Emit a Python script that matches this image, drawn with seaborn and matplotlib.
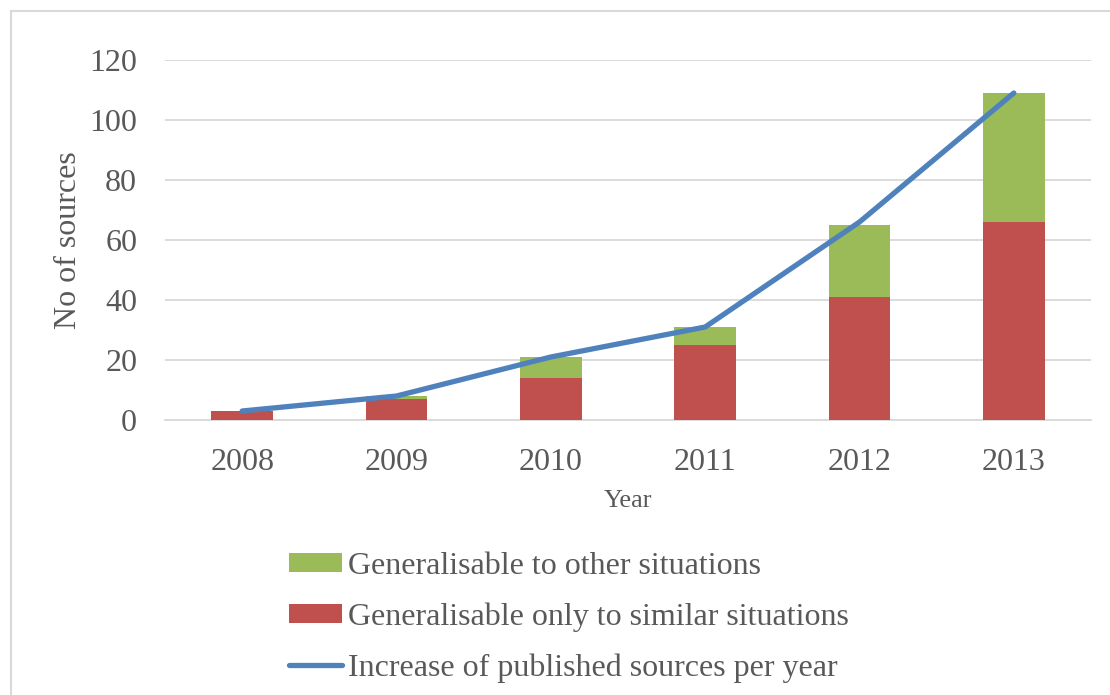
import matplotlib
matplotlib.use("Agg")
import matplotlib.pyplot as plt
import seaborn as sns
import pandas as pd
from matplotlib.patches import Patch
from matplotlib.lines import Line2D

years = ["2008", "2009", "2010", "2011", "2012", "2013"]
only_similar = [3, 7, 14, 25, 41, 66]
other_situations = [0, 1, 7, 6, 24, 43]
published_per_year = [3, 8, 21, 31, 66, 109]
y_ticks = [0, 20, 40, 60, 80, 100, 120]

totals = [a + b for a, b in zip(only_similar, other_situations)]
df = pd.DataFrame({"Year": years, "similar": only_similar, "total": totals,
                   "line": published_per_year})

RED = "#C0504D"
GREEN = "#9BBB59"
BLUE = "#4F81BD"
TXT = "#595959"
GRID = "#D9D9D9"

plt.rcParams["font.family"] = ["Liberation Serif", "DejaVu Serif"]

fig = plt.figure(figsize=(11.1, 6.95), dpi=100)
ax = fig.add_axes([165 / 1110, 1 - 420 / 695, 926 / 1110, 360 / 695])

sns.barplot(data=df, x="Year", y="total", color=GREEN, width=0.4,
            saturation=1, linewidth=0, ax=ax, zorder=2)
sns.barplot(data=df, x="Year", y="similar", color=RED, width=0.4,
            saturation=1, linewidth=0, ax=ax, zorder=3)
sns.lineplot(data=df, x="Year", y="line", color=BLUE, linewidth=3.8,
             ax=ax, zorder=4, solid_capstyle="round", sort=False)

ax.set_ylim(0, 120)
ax.set_xlim(-0.5, 5.5)
ax.set_yticks(y_ticks)
ax.yaxis.grid(True, color=GRID, linewidth=1.3, zorder=0)
ax.set_axisbelow(True)
for s in ["top", "right", "left"]:
    ax.spines[s].set_visible(False)
ax.spines["bottom"].set_color(GRID)
ax.spines["bottom"].set_linewidth(1.3)
ax.tick_params(axis="both", length=0, labelsize=23, labelcolor=TXT)
ax.tick_params(axis="y", pad=20)
ax.tick_params(axis="x", pad=20)

ax.set_xlabel("Year", fontsize=19, color=TXT, va="center")
ax.xaxis.set_label_coords(0.5, -0.225)
ax.set_ylabel("No of sources", fontsize=23, color=TXT, va="center")
ax.yaxis.set_label_coords(-0.104, 0.5)

handles = [Patch(facecolor=GREEN, edgecolor="none"),
           Patch(facecolor=RED, edgecolor="none"),
           Line2D([0], [0], color=BLUE, linewidth=3.8, solid_capstyle="round")]
labels = ["Generalisable to other situations",
          "Generalisable only to similar situations",
          "Increase of published sources per year"]
fig.legend(handles, labels, loc="upper left",
           bbox_to_anchor=(289 / 1110, 1 - 552 / 695),
           frameon=False, fontsize=23, labelcolor=TXT, borderpad=0,
           handlelength=1.65, handleheight=0.55, handletextpad=0.2,
           labelspacing=0.67, borderaxespad=0)

fig.add_artist(Line2D([11 / 1110, 11 / 1110], [0, 1 - 11 / 695],
                      transform=fig.transFigure, color=GRID, linewidth=1.5))
fig.add_artist(Line2D([11 / 1110, 1.0], [1 - 11 / 695, 1 - 11 / 695],
                      transform=fig.transFigure, color=GRID, linewidth=1.5))

fig.savefig("out.png", dpi=100, facecolor="white")
